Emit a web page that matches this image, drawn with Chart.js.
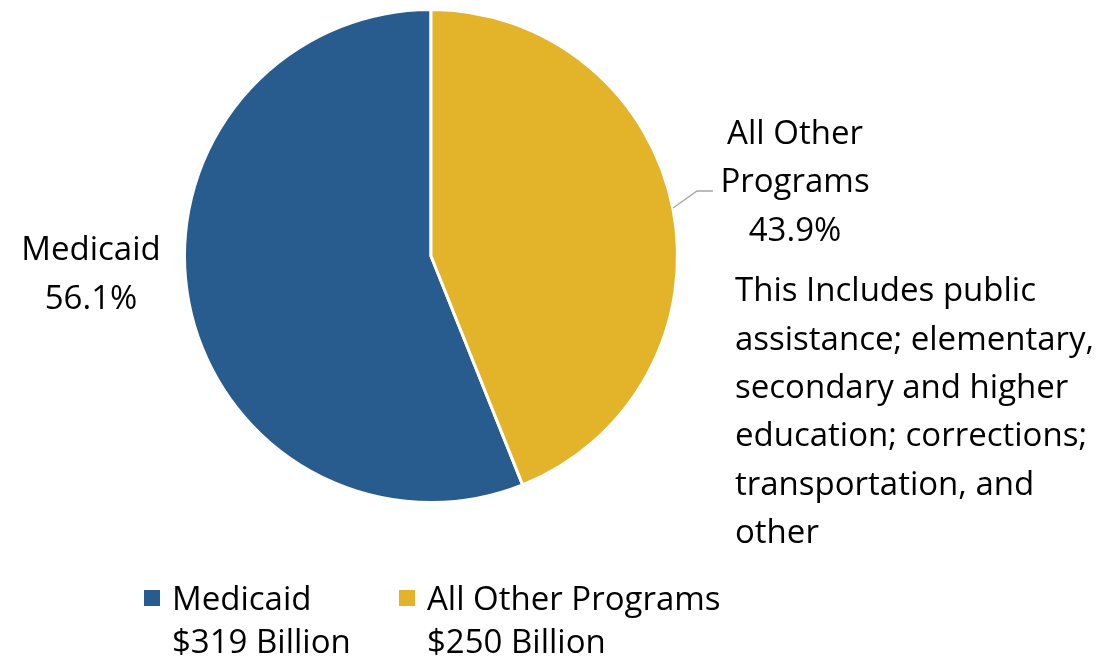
<!DOCTYPE html>
<html>
<head>
<meta charset="utf-8">
<script src="https://cdn.jsdelivr.net/npm/chart.js@4/dist/chart.umd.min.js"></script>
<style>
  html, body { margin: 0; padding: 0; background: #fff; }
  #wrap { width: 1120px; height: 659px; position: relative; }
</style>
</head>
<body>
<div id="wrap"><canvas id="chartSpending"></canvas></div>
<script>
// data
const categories = ["Medicaid", "All Other Programs"];
const amounts = [319, 250];            // $ billion
const amountLabels = ["$319 Billion", "$250 Billion"];
const colors = ["#285B8E", "#E3B32A"];
const noteLines = [
  "This Includes public",
  "assistance; elementary,",
  "secondary and higher",
  "education; corrections;",
  "transportation, and",
  "other"
];

const total = amounts.reduce((a, b) => a + b, 0);
const pct = amounts.map(v => (v / total * 100).toFixed(1) + "%");
// yellow slice starts at 12 o'clock, medicaid follows it
const startRotation = amounts[1] / total * 360;

const FONT = "'Open Sans', sans-serif";

const labelPlugin = {
  id: "labelPlugin",
  afterDraw(chart) {
    const c = chart.ctx;
    c.save();
    c.fillStyle = "#000";
    c.textBaseline = "middle";
    c.font = "33px " + FONT;

    // Medicaid label
    c.textAlign = "center";
    c.fillText(categories[0], 91, 251);
    c.fillText(pct[0], 91, 300);

    // All other programs label
    c.fillText("All Other", 795, 135);
    c.fillText("Programs", 795, 183);
    c.fillText(pct[1], 795, 232);

    // leader line
    c.strokeStyle = "#A6A6A6";
    c.lineWidth = 1.3;
    c.beginPath();
    c.moveTo(673, 208);
    c.lineTo(697, 191);
    c.lineTo(713, 191);
    c.stroke();

    // note text
    c.textAlign = "left";
    noteLines.forEach((t, i) => c.fillText(t, 735, 292 + i * 48.3));

    // legend
    const lx = [144, 399];
    categories.forEach((name, i) => {
      c.fillStyle = colors[i];
      c.fillRect(lx[i], 590, 16, 16);
      c.fillStyle = "#000";
      c.fillText(name, lx[i] + 28, 601);
      c.fillText(amountLabels[i], lx[i] + 28, 644);
    });
    c.restore();
  }
};

ctx = document.getElementById("chartSpending").getContext("2d");
myChart = new Chart(ctx, {
  type: "pie",
  options: {
    responsive: true,
    maintainAspectRatio: false,
    animation: false,
    rotation: startRotation,
    layout: {
      padding: { top: 8, bottom: 155, left: 183, right: 441 }
    },
    plugins: {
      legend: { display: false },
      tooltip: { enabled: false }
    }
  },
  data: {
    labels: categories,
    datasets: [
      {
        label: "State spending",
        backgroundColor: colors,
        borderColor: "#ffffff",
        borderWidth: 3,
        data: amounts,
      },
    ],
  },
  plugins: [labelPlugin]
});
</script>
</body>
</html>
